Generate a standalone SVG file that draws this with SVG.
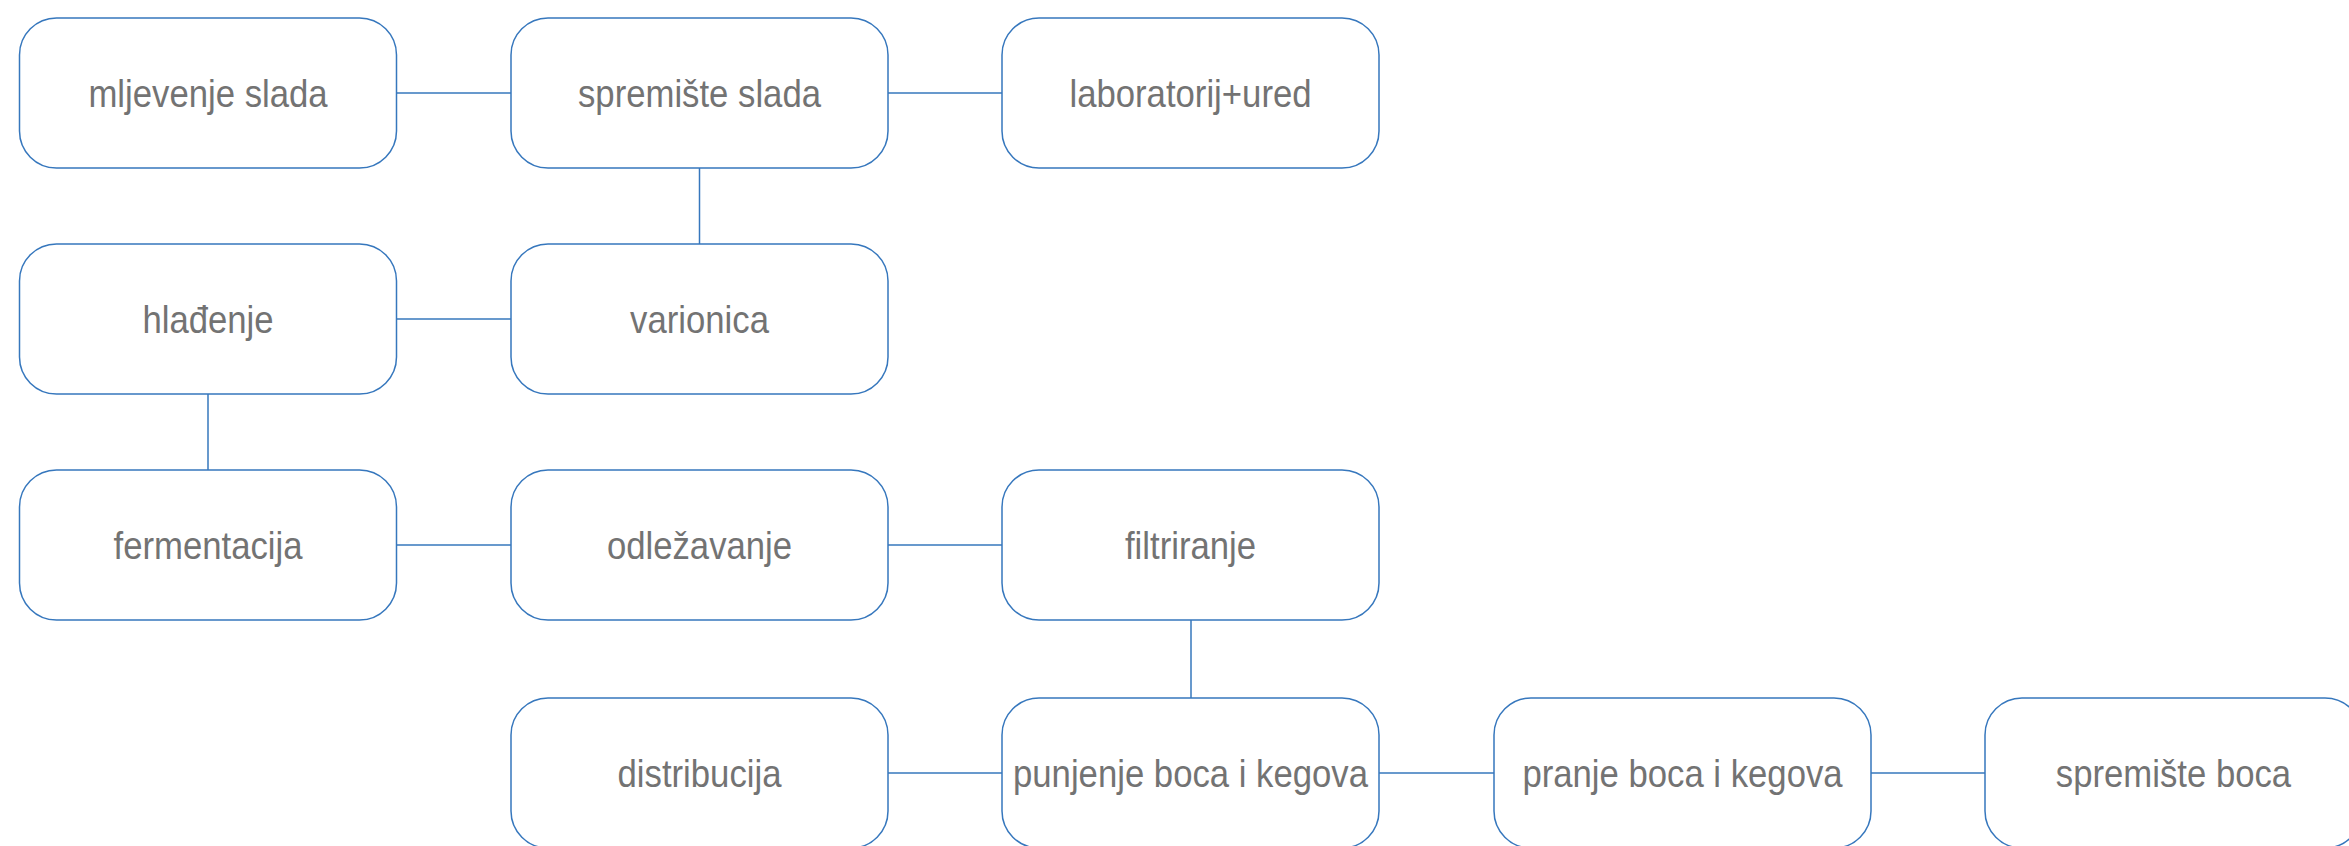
<svg xmlns="http://www.w3.org/2000/svg" width="2349" height="846" viewBox="0 0 2349 846">
<style>
.box{fill:#fff;stroke:#3677bd;stroke-width:1.5}
.lbl{font-family:"Liberation Sans",Arial,sans-serif;font-size:39px;fill:#737373;text-anchor:middle}
.con{stroke:#3677bd;stroke-width:1.5;fill:none}
</style>
<rect width="2349" height="846" fill="#fff"/>
<g id="connectors">
<line class="con" x1="396.5" y1="93" x2="511" y2="93"/>
<line class="con" x1="888" y1="93" x2="1002" y2="93"/>
<line class="con" x1="699.5" y1="168" x2="699.5" y2="244"/>
<line class="con" x1="396.5" y1="319" x2="511" y2="319"/>
<line class="con" x1="208" y1="394" x2="208" y2="470"/>
<line class="con" x1="396.5" y1="545" x2="511" y2="545"/>
<line class="con" x1="888" y1="545" x2="1002" y2="545"/>
<line class="con" x1="1191" y1="620" x2="1191" y2="698"/>
<line class="con" x1="888" y1="773" x2="1002" y2="773"/>
<line class="con" x1="1379" y1="773" x2="1494" y2="773"/>
<line class="con" x1="1871" y1="773" x2="1985" y2="773"/>
</g>
<g id="n1"><rect class="box" x="19.5" y="18" width="377" height="150" rx="37"/><text class="lbl" transform="translate(208 107) scale(0.89 1)">mljevenje slada</text></g>
<g id="n2"><rect class="box" x="511" y="18" width="377" height="150" rx="37"/><text class="lbl" transform="translate(699.5 107) scale(0.89 1)">spremište slada</text></g>
<g id="n3"><rect class="box" x="1002" y="18" width="377" height="150" rx="37"/><text class="lbl" transform="translate(1190.5 107) scale(0.89 1)">laboratorij+ured</text></g>
<g id="n4"><rect class="box" x="19.5" y="244" width="377" height="150" rx="37"/><text class="lbl" transform="translate(208 333) scale(0.89 1)">hlađenje</text></g>
<g id="n5"><rect class="box" x="511" y="244" width="377" height="150" rx="37"/><text class="lbl" transform="translate(699.5 333) scale(0.89 1)">varionica</text></g>
<g id="n6"><rect class="box" x="19.5" y="470" width="377" height="150" rx="37"/><text class="lbl" transform="translate(208 559) scale(0.89 1)">fermentacija</text></g>
<g id="n7"><rect class="box" x="511" y="470" width="377" height="150" rx="37"/><text class="lbl" transform="translate(699.5 559) scale(0.89 1)">odležavanje</text></g>
<g id="n8"><rect class="box" x="1002" y="470" width="377" height="150" rx="37"/><text class="lbl" transform="translate(1190.5 559) scale(0.89 1)">filtriranje</text></g>
<g id="n9"><rect class="box" x="511" y="698" width="377" height="150" rx="37"/><text class="lbl" transform="translate(699.5 787) scale(0.89 1)">distribucija</text></g>
<g id="n10"><rect class="box" x="1002" y="698" width="377" height="150" rx="37"/><text class="lbl" transform="translate(1190.5 787) scale(0.89 1)">punjenje boca i kegova</text></g>
<g id="n11"><rect class="box" x="1494" y="698" width="377" height="150" rx="37"/><text class="lbl" transform="translate(1682.5 787) scale(0.89 1)">pranje boca i kegova</text></g>
<g id="n12"><rect class="box" x="1985" y="698" width="377" height="150" rx="37"/><text class="lbl" transform="translate(2173.5 787) scale(0.89 1)">spremište boca</text></g>
</svg>
